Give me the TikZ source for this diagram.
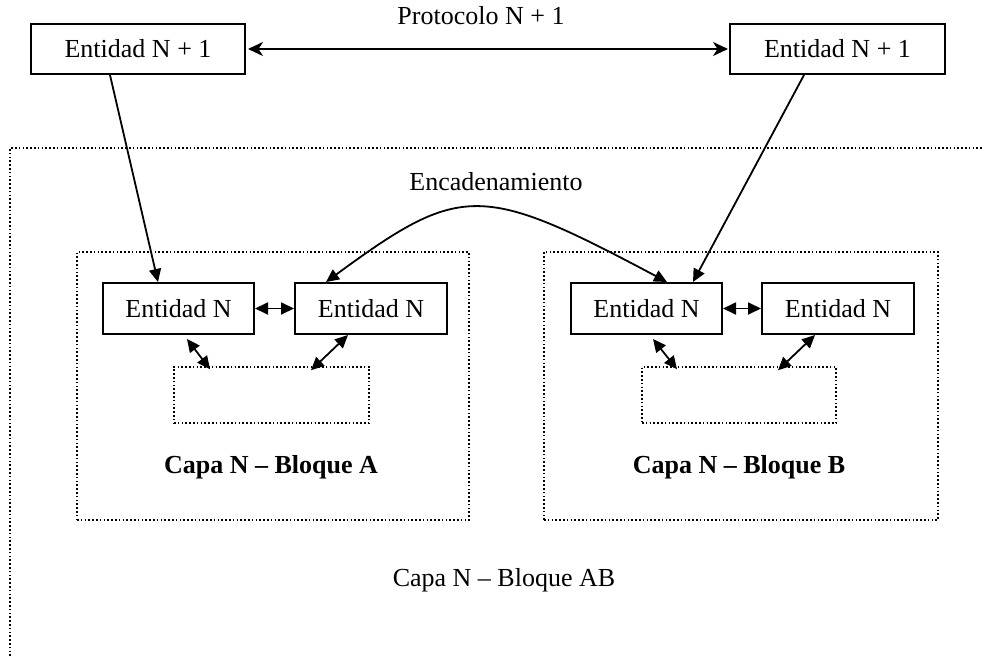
\documentclass[tikz,border=0pt]{standalone}
\usepackage{fontspec}
\setmainfont{Liberation Serif}
\usetikzlibrary{arrows.meta,calc}
\tikzset{
  bigtip/.tip={Stealth[length=15pt,width=14pt,inset=4.5pt]},
  smalltip/.tip={Triangle[length=13pt,width=12pt]}
}
\begin{document}
\begin{tikzpicture}[x=1pt,y=-1pt,
  every node/.style={font=\fontsize{26}{30}\selectfont, inner sep=0pt},
  entity/.style={draw, line width=2pt, minimum height=50pt},
  dotbox/.style={draw, line width=1.5pt, dash pattern=on 1.6pt off 2.2pt},
  link/.style={line width=1.8pt},
  lbl/.style={}]
\useasboundingbox (0,0) rectangle (982,656);

% outer layer frame, open to the right and bottom
\draw[dotbox] (10,656) -- (10,148) -- (982,148);

% upper entities
\node[entity, minimum width=214pt] (tl) at (138,49) {Entidad N + 1};
\node[entity, minimum width=215pt] (tr) at (837.5,49) {Entidad N + 1};
\node[lbl] (proto) at (481,16) {Protocolo N + 1};

% block frames
\node[dotbox, minimum width=392pt, minimum height=268pt] (blkA) at (273,386) {};
\node[dotbox, minimum width=394pt, minimum height=268pt] (blkB) at (741,386) {};

% layer-N entities
\node[entity, minimum width=151pt, minimum height=51pt] (a1) at (178.5,308.5) {Entidad N};
\node[entity, minimum width=152pt, minimum height=51pt] (a2) at (371,308.5) {Entidad N};
\node[entity, minimum width=151pt, minimum height=51pt] (b1) at (646.5,308.5) {Entidad N};
\node[entity, minimum width=152pt, minimum height=51pt] (b2) at (838,308.5) {Entidad N};

% empty service boxes
\node[dotbox, minimum width=195pt, minimum height=56pt] (sa) at (271.5,395) {};
\node[dotbox, minimum width=194pt, minimum height=56pt] (sb) at (739,395) {};

% labels
\node[lbl] (enc) at (496,182) {Encadenamiento};
\node[lbl, font=\fontsize{26}{30}\selectfont\bfseries] (capaA) at (271,467) {Capa N – Bloque A};
\node[lbl, font=\fontsize{26}{30}\selectfont\bfseries] (capaB) at (739,467) {Capa N – Bloque B};
\node[lbl] (capaAB) at (504,580) {Capa N – Bloque AB};

% protocol arrow between upper entities
\draw[link, bigtip-bigtip] ([xshift=2pt]tl.east) -- ([xshift=-1pt]tr.west);

% upper entities down to layer N
\draw[link, -smalltip] ([xshift=-28pt]tl.south) -- ([xshift=-20.5pt]a1.north);
\draw[link, -smalltip] ([xshift=-33.5pt]tr.south) -- ([xshift=46.5pt]b1.north);

% chaining curve between the two blocks
\draw[link, smalltip-smalltip] ([xshift=20.5pt]b1.north)
  .. controls +(-186,-99) and +(135,-99) .. ([xshift=-45pt]a2.north);

% peer links inside each block
\draw[link, smalltip-smalltip] (a1.east) -- (a2.west);
\draw[link, smalltip-smalltip] (b1.east) -- (b2.west);

% links to the service boxes
\draw[link, smalltip-smalltip] ([xshift=8.5pt,yshift=-4pt]a1.south) -- ([xshift=-61.5pt,yshift=-3pt]sa.north);
\draw[link, smalltip-smalltip] ([xshift=-23pt]a2.south) -- ([xshift=39.5pt,yshift=-4pt]sa.north);
\draw[link, smalltip-smalltip] ([xshift=6.5pt,yshift=-4pt]b1.south) -- ([xshift=-62pt,yshift=-3pt]sb.north);
\draw[link, smalltip-smalltip] ([xshift=-23pt]b2.south) -- ([xshift=39pt,yshift=-4pt]sb.north);
\end{tikzpicture}
\end{document}
